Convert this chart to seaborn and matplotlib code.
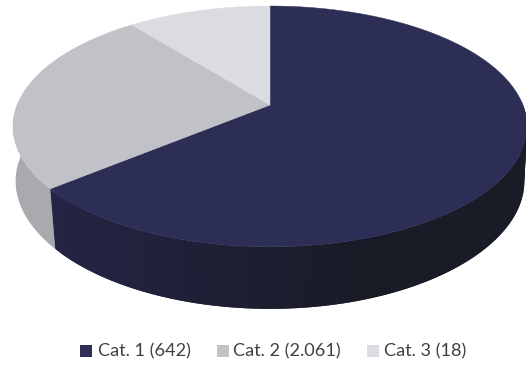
import numpy as np
import matplotlib
matplotlib.use("Agg")
import matplotlib.pyplot as plt
import seaborn as sns
from matplotlib.colors import to_rgb
from matplotlib.patches import Rectangle

# Data (slice shares as drawn, labels as printed)
categories = ["Cat. 1 (642)", "Cat. 2 (2.061)", "Cat. 3 (18)"]
shares = [64.0, 25.3, 10.7]
top_colors = ["#2c2e56", "#c1c2c7", "#dbdce1"]

sns.set_theme(style="white")
plt.rcParams["font.family"] = ["Lato", "DejaVu Sans"]

fig, ax = plt.subplots(figsize=(5.26, 3.67), dpi=100)
fig.subplots_adjust(left=0, right=1, top=1, bottom=0)

# Let the pie work out the wedge angles, then redraw them tilted
wedges, _ = ax.pie(shares, startangle=90, counterclock=False, colors=top_colors)
angles = [(w.theta1, w.theta2) for w in wedges]
for w in wedges:
    w.remove()
ax.set_aspect("auto")
ax.set_xlim(0, 526)
ax.set_ylim(367, 0)
ax.axis("off")


# Perspective of the disc, in pixels of the picture
persp = 0.178


def top_xy(deg):
    t = np.radians(deg)
    u, v = np.cos(t), np.sin(t)
    d = 1 + persp * v
    return 270 + 252.9 * u / d, (105 - 97.93 * v) / d


def bottom_xy(deg):
    x, y = top_xy(deg)
    v = np.sin(np.radians(deg))
    # edges lean inwards, more so towards the front of the disc
    lean = 0.006 + 0.026 * np.clip(-v, 0, 1)
    return x - lean * (x - 270), y + 57 / (1 + 0.08 * v)


def fill_wall(seg, col):
    tx, ty = top_xy(seg)
    bx, by = bottom_xy(seg)
    ax.fill(np.r_[tx, bx[::-1]], np.r_[ty, by[::-1]], color=col, lw=0)


# Side wall first: gray part is flat, dark part gets darker to the right
dark_left = np.array(to_rgb("#242545"))
dark_right = np.array(to_rgb("#191b27"))
gray_wall = "#a9aaae"

fill_wall(np.linspace(max(angles[1][0], -182), angles[1][1], 60), gray_wall)

a, b = angles[0][0], min(angles[0][1], 2)
steps = np.arange(a, b, 2.0)
for s in steps:
    # strips overlap the next one so no seams show
    seg = np.linspace(s, min(s + 4, b), 8)
    mix = np.clip((bottom_xy(s)[0] - 50) / 300, 0, 1)
    fill_wall(seg, dark_left + (dark_right - dark_left) * mix)

# Top of the disc
for (t1, t2), col in zip(angles, top_colors):
    rim = np.linspace(t1, t2, 200)
    x, y = top_xy(rim)
    ax.fill(np.r_[270, x], np.r_[105, y], color=col, lw=0.3)

# Legend
square_x = [80, 217, 367]
text_x = [98, 233, 384]
for sx, tx, label, col in zip(square_x, text_x, categories, top_colors):
    ax.add_patch(Rectangle((sx, 345), 12, 12, color=col, lw=0))
    ax.text(tx, 351, label, fontsize=13.1, color="#404040", va="center", ha="left")

fig.savefig("out.png", dpi=100)
